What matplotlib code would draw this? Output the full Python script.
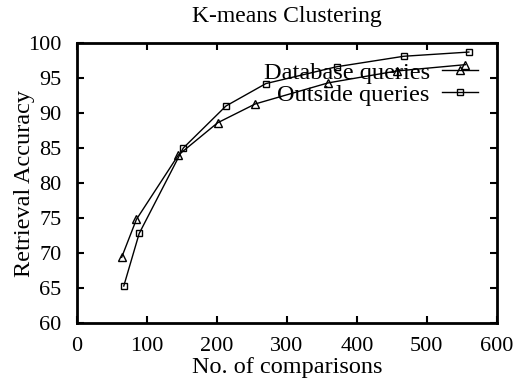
import numpy as np
import matplotlib.pyplot as plt

plt.rcParams['font.family'] = ['Liberation Serif', 'DejaVu Serif']

# comparisons vs. retrieval accuracy
db_x = [64, 85, 145, 201, 255, 359, 457, 555]
db_y = [69.4, 74.8, 84.0, 88.6, 91.3, 94.3, 96.0, 96.9]

out_x = [67, 89, 152, 213, 270, 371, 467, 560]
out_y = [65.3, 72.8, 85.0, 91.0, 94.2, 96.6, 98.1, 98.7]

fig = plt.figure(figsize=(5.23, 3.87), dpi=100)
ax = fig.add_axes([0.147, 0.165, 0.803, 0.724])

ax.plot(db_x, db_y, "k-", marker="^", mfc="none", mec="k", ms=6, mew=1,
        lw=1, label="Database queries")
ax.plot(out_x, out_y, "k-", marker="s", mfc="none", mec="k", ms=5, mew=1,
        lw=1, label="Outside queries")

ax.set_xlim(0, 600)
ax.set_ylim(60, 100)
ax.set_xticks(np.arange(0, 601, 100))
ax.set_yticks(np.arange(60, 101, 5))
ax.tick_params(direction="in", length=5, width=1.5, labelsize=16,
               top=True, right=True)
ax.tick_params(axis="x", pad=10)
ax.tick_params(axis="y", pad=11)
for s in ax.spines.values():
    s.set_linewidth(2)

ax.set_xlabel("No. of comparisons", fontsize=17.5, labelpad=1)
ax.set_ylabel("Retrieval Accuracy", fontsize=17.5, labelpad=-5)
ax.set_title("K-means Clustering", fontsize=17, pad=15)

ax.legend(loc="upper right", bbox_to_anchor=(0.985, 0.976), frameon=False,
          markerfirst=False, fontsize=17.5, handlelength=1.5,
          handletextpad=0.5, labelspacing=0.0, borderpad=0)

plt.savefig("out.png", dpi=100)
